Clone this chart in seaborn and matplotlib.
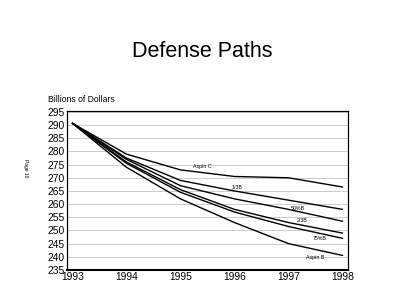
import numpy as np
import pandas as pd
import matplotlib
matplotlib.use("Agg")
import matplotlib.pyplot as plt
import seaborn as sns

# values (billions of dollars)
years = [1993, 1994, 1995, 1996, 1997, 1998]
aspin_c = [290.7, 279, 273, 270.5, 270, 266.5]
third_b = [290.7, 277.5, 269, 265, 261.5, 258]
half_b = [290.7, 277, 267, 262, 258, 253.5]
two_third_b = [290.7, 276, 265.5, 258, 253, 249]
three_q_b = [290.7, 275.5, 264.5, 257, 251.5, 247]
aspin_b = [290.7, 274, 262, 253, 245, 240.5]
names = ["Aspin C", "1/3B", "50%B", "2/3B", "75%B", "Aspin B"]
series = [aspin_c, third_b, half_b, two_third_b, three_q_b, aspin_b]

rows = []
for n, vals in zip(names, series):
    for y, v in zip(years, vals):
        rows.append({"year": y, "value": v, "path": n})
data = pd.DataFrame(rows)

sns.set_style("white")
plt.rcParams["font.family"] = ["Liberation Sans", "DejaVu Sans"]
plt.rcParams["text.color"] = "black"

fig = plt.figure(figsize=(4, 3.04), dpi=100)
ax = fig.add_axes([0.1675, 0.112, 0.7025, 0.524])

sns.lineplot(data=data, x="year", y="value", hue="path", units="path",
             estimator=None, palette=["black"] * 6, linewidth=1.0,
             legend=False, ax=ax)

ax.set_xlim(1992.9, 1998.1)
ax.set_ylim(235, 295.5)
ax.set_yticks(np.arange(235, 296, 5))
ax.set_xticks(years)
ax.yaxis.grid(True, color="#cccccc", linewidth=0.7)
ax.tick_params(axis="both", labelsize=7.4, length=2, pad=1.5, colors="black")
ax.tick_params(axis="x", direction="in", length=3)
ax.tick_params(axis="y", length=0)
ax.set_xlabel("")
ax.set_ylabel("")
for s in ax.spines.values():
    s.set_color("black")
    s.set_linewidth(0.9)
ax.spines["bottom"].set_linewidth(1.5)

# inline labels
label_pos = {"Aspin C": (1995.4, 274.2), "1/3B": (1996.05, 266.4),
             "50%B": (1997.17, 258.4), "2/3B": (1997.25, 253.6),
             "75%B": (1997.58, 246.8), "Aspin B": (1997.5, 239.8)}
for n in names:
    x, y = label_pos[n]
    ax.text(x, y, n, fontsize=3.8, ha="center", va="center")

fig.text(0.505, 0.829, "Defense Paths", fontsize=15.5, ha="center", va="center")
fig.text(0.12, 0.672, "Billions of Dollars", fontsize=6.2, ha="left", va="center")
fig.text(0.063, 0.447, "Page 10", fontsize=3.5, rotation=270, ha="center", va="center")

fig.savefig("out.png", dpi=100)
